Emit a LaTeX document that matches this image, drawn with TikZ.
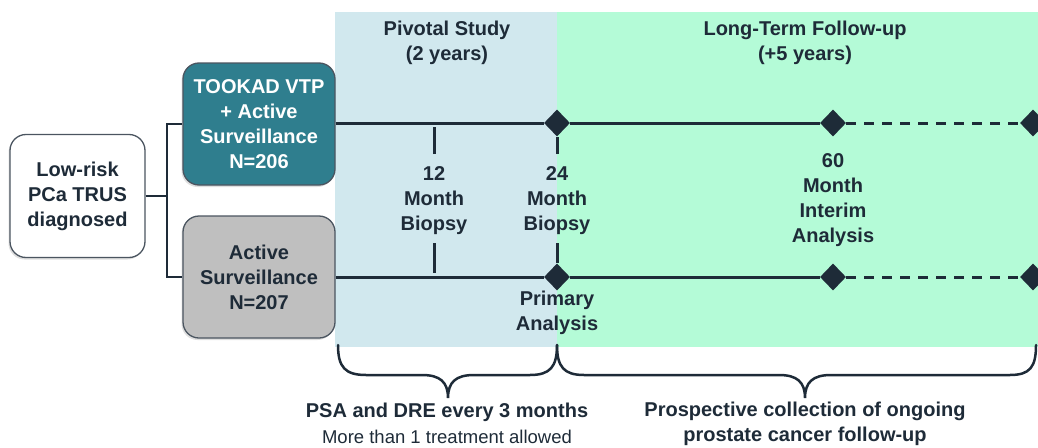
\documentclass[tikz,border=0pt]{standalone}
\usepackage{fontspec}
\setmainfont{Liberation Sans}
\usetikzlibrary{shapes.geometric,shadows}
\definecolor{ink}{HTML}{1E2B38}
\definecolor{pivot}{HTML}{D1E8EE}
\definecolor{follow}{HTML}{B4FBD7}
\definecolor{teal}{HTML}{2F7E8E}
\definecolor{greybox}{HTML}{BFBFBF}
\newcommand{\bfs}{\fontsize{20}{25}\selectfont\bfseries}
\newcommand{\rfs}{\fontsize{18.5}{22}\selectfont}
\begin{document}
\begin{tikzpicture}[x=1pt,y=-1pt,
  box/.style={draw=ink!80,line width=1.3pt,rounded corners=16pt,minimum width=152pt,minimum height=122pt,align=center,font=\bfs,inner sep=2pt,
    drop shadow={shadow xshift=-1.5pt,shadow yshift=-2pt,opacity=0.25}},
  lab/.style={align=center,font=\bfs,text=ink,inner sep=0pt},
  dmark/.style={diamond,fill=ink,minimum width=26pt,minimum height=27pt,inner sep=0pt},
  tl/.style={draw=ink,line width=3pt},
  tldash/.style={draw=ink,line width=3pt,dash pattern=on 10pt off 8pt},
  conn/.style={draw=ink,line width=2.5pt},
  brace/.style={draw=ink,line width=2.5pt,line cap=round}]
\useasboundingbox (0,0) rectangle (1038,447);
% backgrounds
\fill[pivot] (335,12) rectangle (557,347);
\fill[follow] (557,12) rectangle (1038,347);
% headers
\node[lab] (hpiv) at (447,43) {Pivotal Study\\(2 years)};
\node[lab] (hfol) at (805,43) {Long-Term Follow-up\\(+5 years)};
% boxes
\node[box,fill=white,text=ink,minimum width=135pt,minimum height=123pt] (low) at (77.5,196) {Low-risk\\PCa TRUS\\diagnosed};
\node[box,fill=teal,text=white] (tookad) at (259,124) {TOOKAD VTP\\+ Active\\Surveillance\\N=206};
\node[box,fill=greybox,text=ink] (as) at (259,277) {Active\\Surveillance\\N=207};
% connector
\coordinate (j) at (167,196);
\draw[conn] (low.east) -- (j) |- (tookad.west);
\draw[conn] (j) |- (as.west);
% diamonds
\node[dmark] (d1) at (557,123) {};
\node[dmark] (d2) at (833,123) {};
\node[dmark] (d3) at (1033,123) {};
\node[dmark] (e1) at (557,277) {};
\node[dmark] (e2) at (833,277) {};
\node[dmark] (e3) at (1033,277) {};
% timelines
\draw[tl] (tookad.east |- d1) -- (d1) -- (d2);
\draw[tldash] (d2) -- (d3);
\draw[tl] (as.east) -- (e1) -- (e2);
\draw[tldash] (e2) -- (e3);
% ticks
\coordinate (t12a) at (434,154);
\coordinate (t12c) at (434,127);
\coordinate (t12b) at (434,243);
\coordinate (t12d) at (434,273);
\coordinate (t24a) at (557,154);
\coordinate (t24b) at (557,243);
\draw[tl] (t12a) -- (t12c);
\draw[tl] (t12b) -- (t12d);
\draw[tl] (t24a) -- (d1);
\draw[tl] (t24b) -- (e1);
% labels
\node[lab] (l12) at (434,201) {12\\Month\\Biopsy};
\node[lab] (l24) at (557,201) {24\\Month\\Biopsy};
\node[lab] (lprim) at (557,313) {Primary\\Analysis};
\node[lab] (l60) at (833,200) {60\\Month\\Interim\\Analysis};
% braces
\coordinate (b1l) at (338,345);
\coordinate (b1m) at (448,398);
\coordinate (b1r) at (557,345);
\coordinate (b2m) at (805,398);
\coordinate (b2r) at (1036,345);
\draw[brace] (b1l) .. controls (338,367) and (345,375) .. (366,375) -- (422,375)
  .. controls (440,375) and (448,382) .. (b1m)
  .. controls (448,382) and (456,375) .. (474,375) -- (530,375)
  .. controls (550,375) and (557,367) .. (b1r);
\draw[brace] (b1r) .. controls (557,367) and (564,375) .. (584,375) -- (779,375)
  .. controls (797,375) and (805,382) .. (b2m)
  .. controls (805,382) and (813,375) .. (831,375) -- (1010,375)
  .. controls (1030,375) and (1036,367) .. (b2r);
% bottom texts
\node[lab] (psa) at (447,412) {PSA and DRE every 3 months};
\node[align=center,font=\rfs,text=ink,inner sep=0pt] (more) at (447,437) {More than 1 treatment allowed};
\node[lab] (prosp) at (805,424) {Prospective collection of ongoing\\prostate cancer follow-up};
\end{tikzpicture}
\end{document}
